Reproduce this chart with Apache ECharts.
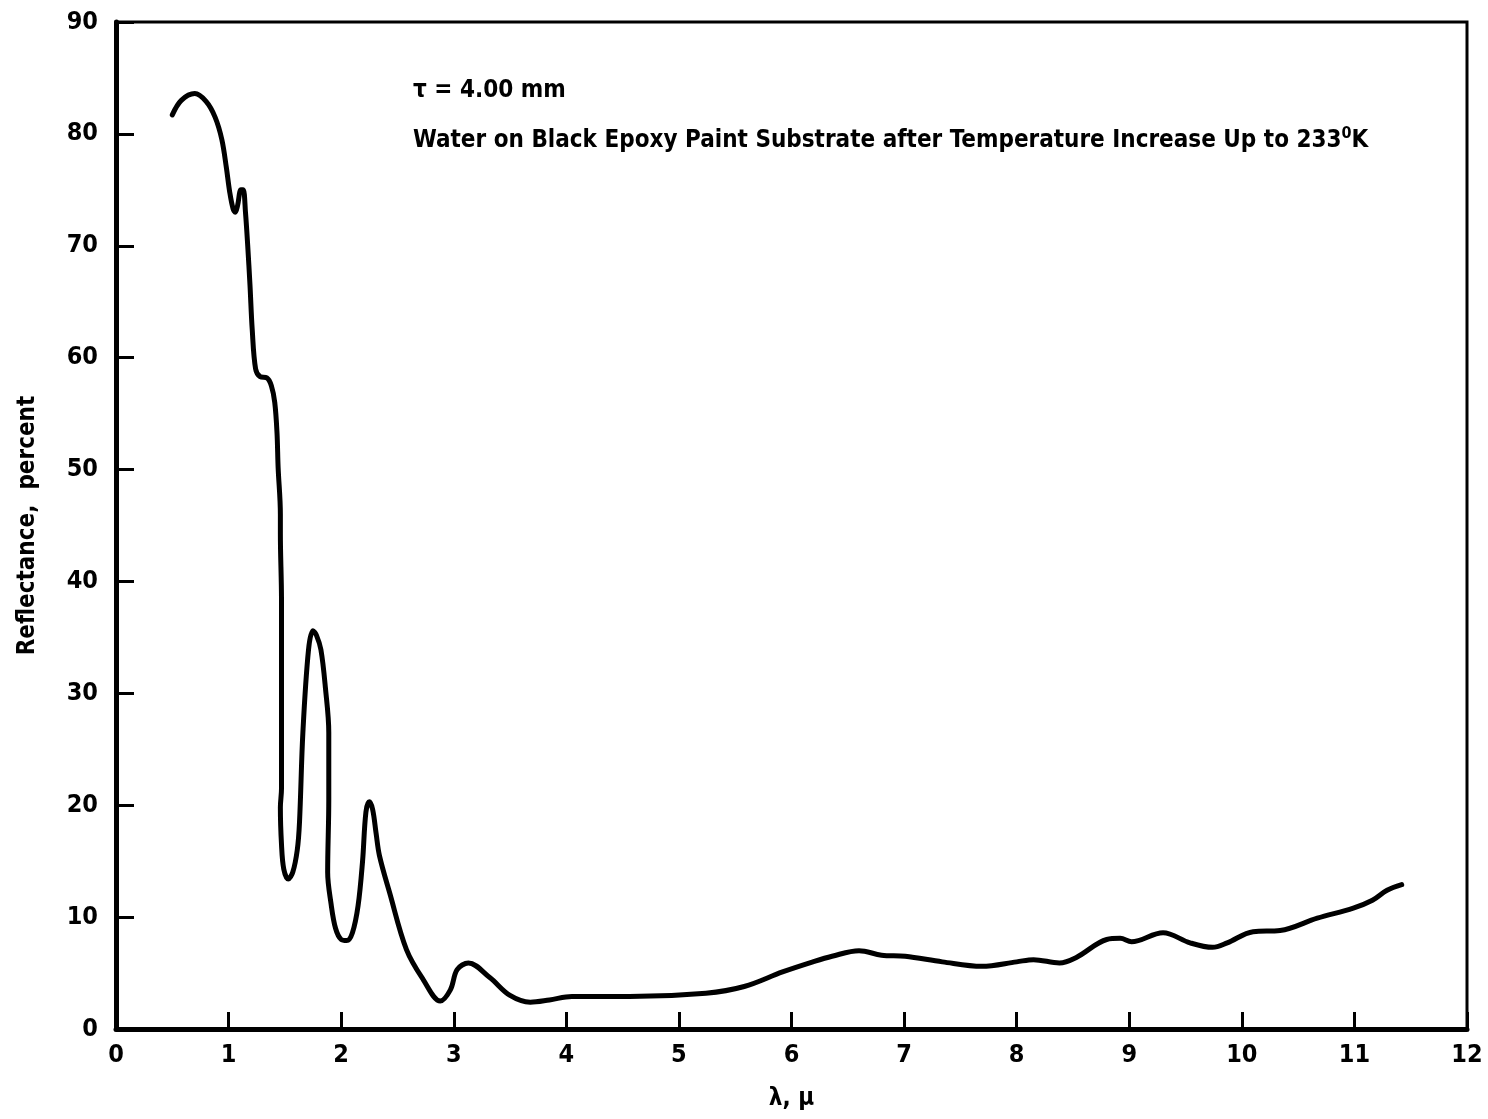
<!DOCTYPE html>
<html>
<head>
<meta charset="utf-8">
<script src="https://cdn.jsdelivr.net/npm/echarts@6/dist/echarts.min.js"></script>
<style>
html,body{margin:0;padding:0;background:#fff;}
#chart{width:1488px;height:1119px;}
</style>
</head>
<body>
<div id="chart"></div>
<script>
// wavelength (micron)
var wavelength = [0.50,0.58,0.70,0.80,0.88,0.94,0.98,1.01,1.04,1.06,1.08,1.11,1.13,1.15,1.17,1.19,1.21,1.24,1.28,1.34,1.38,1.41,1.43,1.44,1.46,1.46,1.47,1.47,1.47,1.47,1.46,1.47,1.49,1.53,1.57,1.61,1.63,1.66,1.71,1.75,1.78,1.82,1.86,1.89,1.89,1.88,1.91,1.95,2.00,2.05,2.10,2.15,2.19,2.22,2.25,2.28,2.31,2.34,2.43,2.58,2.73,2.88,2.97,3.03,3.13,3.32,3.50,3.68,3.85,4.05,4.56,5.24,5.58,5.92,6.19,6.36,6.60,6.80,7.01,7.34,7.69,8.00,8.15,8.38,8.53,8.80,8.92,9.02,9.30,9.54,9.74,9.87,10.10,10.34,10.67,10.99,11.16,11.29,11.42];
// reflectance (percent)
var reflectance = [81.7,83.0,83.6,82.9,81.5,79.5,77.0,74.8,73.3,73.0,73.6,75.0,75.0,73.0,70.0,66.5,62.5,59.0,58.3,58.2,57.5,56.0,53.3,50.2,46.0,44.3,38.3,32.4,26.5,21.5,19.8,16.5,14.3,13.4,14.0,16.0,18.5,26.5,33.9,35.6,35.2,33.9,30.5,26.5,20.5,14.0,11.2,9.0,8.0,7.9,8.6,11.0,15.0,19.4,20.3,19.6,17.5,15.5,12.2,7.1,4.4,2.5,3.5,5.3,5.9,4.6,3.0,2.4,2.6,2.9,2.9,3.2,3.8,5.1,6.0,6.5,7.0,6.6,6.5,6.0,5.6,6.0,6.2,5.9,6.4,8.0,8.1,7.8,8.6,7.7,7.3,7.7,8.7,8.8,9.9,10.8,11.5,12.4,12.9];
var xTicks = [0,1,2,3,4,5,6,7,8,9,10,11,12];
var yTicks = [0,10,20,30,40,50,60,70,80,90];
var labelTau = 'τ = 4.00 mm';
var labelDesc = 'Water on Black Epoxy Paint Substrate after Temperature Increase Up to 233';

var points = wavelength.map(function(x,i){return [x, reflectance[i]];});
var FONT = '"DejaVu Sans Condensed","Liberation Sans Narrow",sans-serif';

var chart = echarts.init(document.getElementById('chart'));
chart.setOption({
  backgroundColor:'#fff',
  animation:false,
  grid:{left:116,right:21,top:22,bottom:90,show:true,borderColor:'#000',borderWidth:3,backgroundColor:'transparent'},
  xAxis:{
    type:'value',min:0,max:12,interval:1,
    name:'λ, μ',nameLocation:'middle',nameGap:58,
    nameTextStyle:{fontFamily:FONT,fontSize:24,fontWeight:'bold',color:'#000'},
    axisLine:{show:true,lineStyle:{color:'#000',width:5}},
    axisTick:{show:true,inside:true,length:17,lineStyle:{color:'#000',width:3}},
    axisLabel:{fontFamily:FONT,fontSize:25,fontWeight:'bold',color:'#000',margin:14,
      formatter:function(v){return xTicks.indexOf(v)>=0?String(v):'';}},
    splitLine:{show:false}
  },
  yAxis:{
    type:'value',min:0,max:90,interval:10,
    name:'Reflectance,  percent',nameLocation:'middle',nameGap:76,nameRotate:90,
    nameTextStyle:{fontFamily:FONT,fontSize:24,fontWeight:'bold',color:'#000'},
    axisLine:{show:true,lineStyle:{color:'#000',width:5}},
    axisTick:{show:true,inside:true,length:18,lineStyle:{color:'#000',width:3}},
    axisLabel:{fontFamily:FONT,fontSize:25,fontWeight:'bold',color:'#000',margin:18,
      formatter:function(v){return yTicks.indexOf(v)>=0?String(v):'';}},
    splitLine:{show:false}
  },
  graphic:[
    {type:'text',left:413,top:79,style:{text:labelTau,font:'bold 24px '+FONT,fill:'#000'}},
    {type:'text',left:413,top:126,style:{
      text:'{a|'+labelDesc+'}{s|0}{a|K}',
      rich:{
        a:{fontFamily:FONT,fontSize:24,fontWeight:'bold',color:'#000'},
        s:{fontFamily:FONT,fontSize:16,fontWeight:'bold',color:'#000',verticalAlign:'top',padding:[0,0,14,0]}
      }
    }}
  ],
  series:[{
    type:'line',data:points,smooth:0.35,showSymbol:false,
    lineStyle:{color:'#000',width:5,cap:'round',join:'round'}
  }]
});
</script>
</body>
</html>
